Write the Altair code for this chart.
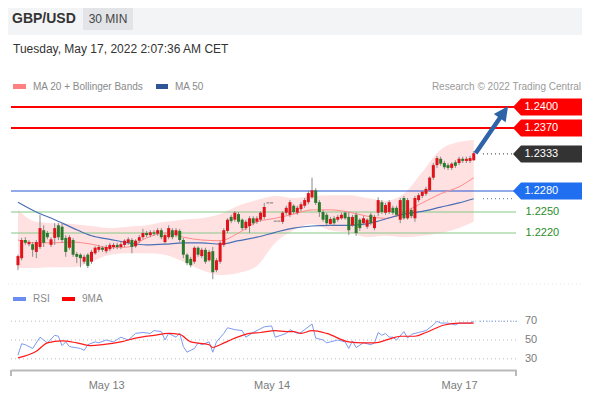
import altair as alt
import pandas as pd

# ---------------- text ----------------
TITLE = "GBP/USD"
PERIOD = "30 MIN"
TIMESTAMP = "Tuesday, May 17, 2022 2:07:36 AM CET"
LEG_MA20 = "MA 20 + Bollinger Bands"
LEG_MA50 = "MA 50"
CREDIT = "Research \u00a9 2022 Trading Central"
LEG_RSI = "RSI"
LEG_MA9 = "9MA"

date_labels = ["May 13", "May 14", "May 17"]
date_bars = [24, 69, 120]

# ---------------- candles (30 min bars) ----------------
opens = [
1.2174,1.2184,1.2210,1.2204,1.2204,1.2193,1.2200,1.2224,1.2220,1.2203,
1.2213,1.2231,1.2229,1.2213,1.2199,1.2210,1.2190,1.2189,1.2179,1.2189,
1.2179,1.2191,1.2196,1.2199,1.2194,1.2197,1.2200,1.2203,1.2200,1.2203,
1.2206,1.2210,1.2201,1.2209,1.2214,1.2220,1.2217,1.2221,1.2219,1.2224,
1.2207,1.2214,1.2224,1.2217,1.2223,1.2210,1.2189,1.2183,1.2179,1.2199,
1.2187,1.2196,1.2181,1.2194,1.2167,1.2179,1.2203,1.2223,1.2243,1.2239,
1.2247,1.2239,1.2227,1.2230,1.2241,1.2236,1.2239,1.2243,1.2263,1.2263,
1.2237,1.2237,1.2236,1.2249,1.2246,1.2259,1.2249,1.2254,1.2259,1.2264,
1.2271,1.2281,1.2264,1.2250,1.2246,1.2233,1.2241,1.2239,1.2241,1.2249,
1.2243,1.2231,1.2246,1.2239,1.2234,1.2229,1.2246,1.2227,1.2249,1.2264,
1.2249,1.2250,1.2256,1.2256,1.2239,1.2270,1.2241,1.2253,1.2241,1.2267,
1.2273,1.2276,1.2281,1.2299,1.2317,1.2326,1.2320,1.2317,1.2313,1.2321,
1.2320,1.2326,1.2323,1.2323,1.2324]
highs = [
1.2189,1.2213,1.2214,1.2210,1.2207,1.2210,1.2246,1.2231,1.2223,1.2214,
1.2234,1.2234,1.2234,1.2217,1.2217,1.2213,1.2193,1.2191,1.2189,1.2191,
1.2196,1.2201,1.2203,1.2201,1.2203,1.2206,1.2206,1.2206,1.2207,1.2211,
1.2214,1.2213,1.2211,1.2217,1.2226,1.2223,1.2224,1.2224,1.2227,1.2227,
1.2219,1.2231,1.2227,1.2227,1.2226,1.2213,1.2191,1.2186,1.2201,1.2201,
1.2199,1.2199,1.2196,1.2200,1.2184,1.2209,1.2227,1.2241,1.2246,1.2251,
1.2250,1.2241,1.2239,1.2244,1.2244,1.2244,1.2251,1.2263,1.2263,1.2263,
1.2237,1.2237,1.2251,1.2259,1.2267,1.2261,1.2259,1.2264,1.2270,1.2280,
1.2299,1.2284,1.2267,1.2253,1.2249,1.2243,1.2244,1.2246,1.2249,1.2251,
1.2250,1.2246,1.2249,1.2241,1.2244,1.2241,1.2249,1.2246,1.2271,1.2267,
1.2263,1.2267,1.2259,1.2259,1.2270,1.2273,1.2270,1.2256,1.2273,1.2277,
1.2281,1.2286,1.2301,1.2320,1.2330,1.2329,1.2323,1.2320,1.2321,1.2324,
1.2329,1.2329,1.2329,1.2330,1.2337]
lows = [
1.2167,1.2181,1.2203,1.2201,1.2186,1.2184,1.2197,1.2200,1.2211,1.2200,
1.2203,1.2210,1.2206,1.2186,1.2196,1.2186,1.2177,1.2171,1.2176,1.2170,
1.2176,1.2189,1.2193,1.2193,1.2191,1.2194,1.2197,1.2197,1.2197,1.2200,
1.2203,1.2191,1.2199,1.2206,1.2211,1.2214,1.2214,1.2216,1.2216,1.2211,
1.2204,1.2211,1.2211,1.2214,1.2207,1.2184,1.2174,1.2171,1.2176,1.2186,
1.2184,1.2176,1.2179,1.2154,1.2164,1.2176,1.2200,1.2220,1.2234,1.2236,
1.2233,1.2224,1.2224,1.2220,1.2231,1.2233,1.2236,1.2240,1.2263,1.2263,
1.2237,1.2237,1.2233,1.2246,1.2243,1.2247,1.2246,1.2251,1.2256,1.2261,
1.2269,1.2260,1.2243,1.2236,1.2231,1.2230,1.2231,1.2236,1.2239,1.2239,
1.2217,1.2229,1.2216,1.2223,1.2231,1.2226,1.2231,1.2224,1.2244,1.2247,
1.2246,1.2247,1.2246,1.2243,1.2234,1.2239,1.2239,1.2241,1.2236,1.2264,
1.2270,1.2273,1.2279,1.2296,1.2313,1.2316,1.2311,1.2310,1.2310,1.2313,
1.2317,1.2320,1.2320,1.2320,1.2323]
closes = [
1.2187,1.2210,1.2206,1.2207,1.2196,1.2207,1.2227,1.2206,1.2214,1.2211,
1.2227,1.2214,1.2210,1.2193,1.2214,1.2189,1.2186,1.2184,1.2186,1.2173,
1.2193,1.2199,1.2200,1.2196,1.2200,1.2203,1.2203,1.2200,1.2204,1.2209,
1.2211,1.2200,1.2209,1.2214,1.2220,1.2217,1.2221,1.2219,1.2224,1.2214,
1.2217,1.2227,1.2214,1.2224,1.2210,1.2189,1.2177,1.2174,1.2199,1.2189,
1.2196,1.2179,1.2193,1.2164,1.2181,1.2206,1.2224,1.2239,1.2237,1.2249,
1.2236,1.2227,1.2236,1.2241,1.2234,1.2241,1.2249,1.2257,1.2263,1.2263,
1.2237,1.2237,1.2249,1.2256,1.2264,1.2250,1.2256,1.2261,1.2267,1.2277,
1.2281,1.2263,1.2250,1.2239,1.2234,1.2240,1.2234,1.2243,1.2246,1.2241,
1.2224,1.2243,1.2220,1.2227,1.2241,1.2239,1.2234,1.2243,1.2267,1.2250,
1.2260,1.2264,1.2249,1.2246,1.2267,1.2241,1.2267,1.2244,1.2270,1.2274,
1.2279,1.2283,1.2299,1.2317,1.2327,1.2319,1.2314,1.2313,1.2319,1.2316,
1.2326,1.2323,1.2326,1.2327,1.2334]

# ---------------- indicators ----------------
ind_idx = [0,5,10,15,20,25,30,35,40,45,50,55,60,65,70,75,80,85,90,95,100,105,110,115,120,124]
bb_upper = [1.2253,1.2236,1.2234,1.2233,1.2230,1.2227,1.2229,1.2231,1.2236,1.2239,1.2241,1.2247,1.2259,
            1.2267,1.2273,1.2270,1.2273,1.2274,1.2274,1.2270,1.2266,1.2276,1.2307,1.2339,1.2350,1.2353]
bb_lower = [1.2170,1.2170,1.2171,1.2171,1.2179,1.2189,1.2191,1.2191,1.2189,1.2179,1.2167,1.2160,1.2163,
            1.2173,1.2206,1.2224,1.2233,1.2224,1.2221,1.2214,1.2216,1.2214,1.2216,1.2220,1.2227,1.2236]
ma20 = [1.2210,1.2206,1.2206,1.2207,1.2204,1.2199,1.2200,1.2213,1.2220,1.2214,1.2210,1.2209,1.2220,
        1.2236,1.2241,1.2247,1.2253,1.2253,1.2250,1.2244,1.2241,1.2250,1.2263,1.2276,1.2286,1.2299]
ma50 = [1.2264,1.2250,1.2239,1.2227,1.2216,1.2211,1.2206,1.2203,1.2204,1.2206,1.2206,1.2204,1.2209,
        1.2214,1.2221,1.2227,1.2230,1.2231,1.2231,1.2233,1.2240,1.2247,1.2251,1.2257,1.2263,1.2269]

rsi_idx = [0,1,2,4,6,7,8,10,11,12,13,14,17,18,19,21,22,24,26,28,30,32,34,36,37,39,40,41,43,44,
           45,46,48,49,50,52,53,54,56,57,59,61,62,64,67,69,70,73,74,76,77,80,81,83,84,85,87,89,90,91,
           92,94,96,97,98,99,100,101,102,103,105,106,107,109,111,113,114,115,117,119,120,121,123,124]
rsi_val = [34,46,45,41,53,50,47,55,54,44,48,43,41,39,45,48,47,50,48,53,50,57,58,57,60,59,50,57,53,57,
           43,37,41,47,45,48,37,48,57,63,61,60,53,58,64,65,53,57,61,57,58,67,52,50,47,48,50,48,41,49,
           42,47,45,47,58,55,57,53,53,50,59,52,56,58,60,66,70,68,68,66,68,68,68,70]
ma9_idx = [0,5,8,12,16,20,23,28,32,37,41,44,47,52,53,55,59,63,66,70,73,75,77,80,84,90,94,97,101,104,
           108,111,116,120,124]
ma9_val = [31,38,47,49,47,44,45,48,52,55,57,56,48,45,42,45,52,57,58,60,59,59,57,60,57,48,47,47,51,54,
           54,58,66,68,68]

# ---------------- levels ----------------
resist_levels = [1.2400, 1.2370]
last_price = 1.2333
pivot_level = 1.2280
support_levels = [1.2250, 1.2220]
box_levels = [1.2400, 1.2370, 1.2333, 1.2280]
rsi_levels = [70, 50, 30]
arrow_idx = [124.5, 132.0]
arrow_price = [1.2334, 1.2391]

# ---------------- styles ----------------
FONT = "Liberation Sans"
W, H = 574, 384
UP, DOWN, FLAT = "#e0131a", "#2b7a2b", "#444444"
box_colors = ["#ff0000", "#ff0000", "#333333", "#1f6ff0"]
BOX_PATH = "M -1 0 L -0.768 -0.246 L 1 -0.246 L 1 0.246 L -0.768 0.246 Z"
HEAD_PATH = "M 0 -1 L 0.85 0.7 L -0.85 0.7 Z"

x_scale = alt.Scale(domain=[-0.533, 134.133], range=[3, 508], nice=False, zero=False)
p_scale = alt.Scale(domain=[1.2150, 1.2410], range=[274, 92], nice=False, zero=False)
r_scale = alt.Scale(domain=[20, 80], range=[360.2, 303.8], nice=False, zero=False)

label_expr = ""
for pos, lab in zip(date_bars, date_labels):
    label_expr += f"datum.value == {pos} ? '{lab}' : "
label_expr += "''"

x_axis = alt.Axis(values=date_bars, labelExpr=label_expr, title=None, grid=False, ticks=False,
                  tickSize=0, domainColor="#b9b9b9", domainWidth=2, labelColor="#7b7b7b",
                  labelFont=FONT, labelFontSize=11, labelPadding=9, offset=-22,
                  labelOverlap=False, labelFlush=False)


def X(f="i"):
    return alt.X(f"{f}:Q", scale=x_scale, axis=x_axis)


def YP(f):
    return alt.Y(f"{f}:Q", scale=p_scale, axis=None)


def YR(f):
    return alt.Y(f"{f}:Q", scale=r_scale, axis=None)


one = pd.DataFrame({"k": [0]})


def txt(s, x, y, size, color, align="left", weight="normal"):
    return alt.Chart(pd.DataFrame({"t": [s]})).mark_text(
        align=align, baseline="middle", font=FONT, fontSize=size, fontWeight=weight, color=color
    ).encode(x=alt.value(x), y=alt.value(y), text="t:N")


def rect(x, x2, y, y2, color):
    return alt.Chart(one).mark_rect(color=color).encode(
        x=alt.value(x), x2=alt.value(x2), y=alt.value(y), y2=alt.value(y2))


def hrule(x, x2, y, color, width=1, dash=None):
    kw = dict(color=color, strokeWidth=width)
    if dash:
        kw["strokeDash"] = dash
    return alt.Chart(one).mark_rule(**kw).encode(
        x=alt.value(x), x2=alt.value(x2), y=alt.value(y))


def vrule(x, y, y2, color, width=1):
    return alt.Chart(one).mark_rule(color=color, strokeWidth=width).encode(
        x=alt.value(x), y=alt.value(y), y2=alt.value(y2))


cdf = pd.DataFrame({"i": list(range(len(opens))), "open": opens, "high": highs,
                    "low": lows, "close": closes})
ind = pd.DataFrame({"i": ind_idx, "upper": bb_upper, "lower": bb_lower, "ma20": ma20, "ma50": ma50})
rsi_df = pd.DataFrame({"i": rsi_idx, "rsi": rsi_val})
ma9_df = pd.DataFrame({"i": ma9_idx, "ma9": ma9_val})
arrow_df = pd.DataFrame({"i": arrow_idx, "p": arrow_price})
box_df = pd.DataFrame({"level": box_levels, "fill": box_colors,
                       "label": [f"{v:.4f}" for v in box_levels]})
sup_df = pd.DataFrame({"level": support_levels, "label": [f"{v:.4f}" for v in support_levels]})

layers = []
# header
layers.append(rect(0, W, 0, 27, "#f3f4f5"))
layers.append(rect(75, 125, 0, 22, "#e2e4e7"))
layers.append(txt(TITLE, 4, 11, 14, "#333333", weight="bold"))
layers.append(txt(PERIOD, 100, 11, 12, "#444444", align="center"))
layers.append(txt(TIMESTAMP, 5, 41, 12, "#333333"))
# price legend
layers.append(rect(5, 18, 76, 81, "#ff8080"))
layers.append(txt(LEG_MA20, 25, 78.5, 10, "#8a8a8a"))
layers.append(rect(148, 160, 76, 81, "#2f5597"))
layers.append(txt(LEG_MA50, 167, 78.5, 10, "#8a8a8a"))
layers.append(txt(CREDIT, 573, 78.5, 10, "#9a9a9a", align="right"))

# bollinger band
layers.append(alt.Chart(ind).mark_area(color="#ffe1e1", interpolate="monotone").encode(
    x=X(), y=YP("upper"), y2=alt.Y2("lower:Q")))
# horizontal levels
layers.append(alt.Chart(pd.DataFrame({"level": support_levels})).mark_rule(
    color="#86c986", strokeWidth=1).encode(y=YP("level"), x=alt.value(3), x2=alt.value(508)))
layers.append(alt.Chart(pd.DataFrame({"level": [pivot_level]})).mark_rule(
    color="#2456d6", strokeWidth=1.2).encode(y=YP("level"), x=alt.value(3), x2=alt.value(507)))
layers.append(alt.Chart(pd.DataFrame({"level": resist_levels})).mark_rule(
    color="#ff0000", strokeWidth=2).encode(y=YP("level"), x=alt.value(3), x2=alt.value(507)))
# moving averages
layers.append(alt.Chart(ind).mark_line(color="#ff8a8a", strokeWidth=1, interpolate="monotone").encode(
    x=X(), y=YP("ma20")))
layers.append(alt.Chart(ind).mark_line(color="#4a6fb5", strokeWidth=1.2, interpolate="monotone").encode(
    x=X(), y=YP("ma50")))
# candles
layers.append(alt.Chart(cdf).mark_rule(color="#8a8a8a", strokeWidth=1).encode(
    x=X(), y=YP("low"), y2=alt.Y2("high:Q")))
layers.append(alt.Chart(cdf).transform_filter("datum.open != datum.close").mark_bar(size=3).encode(
    x=X(), y=YP("open"), y2=alt.Y2("close:Q"),
    color=alt.condition("datum.close > datum.open", alt.value(UP), alt.value(DOWN))))
layers.append(alt.Chart(cdf).transform_filter("datum.open == datum.close").mark_tick(
    color=FLAT, thickness=1, size=3, orient="horizontal").encode(x=X(), y=YP("close")))
# dotted extensions
layers.append(alt.Chart(pd.DataFrame({"level": [last_price]})).mark_rule(
    color="#333333", strokeDash=[1, 3], strokeWidth=1).encode(
    y=YP("level"), x=alt.value(475), x2=alt.value(505)))
layers.append(alt.Chart(pd.DataFrame({"level": [ma50[-1]]})).mark_rule(
    color="#4a6fb5", strokeDash=[1, 3], strokeWidth=1).encode(
    y=YP("level"), x=alt.value(475), x2=alt.value(505)))
# arrow
layers.append(alt.Chart(arrow_df).mark_line(color="#2e63a8", strokeWidth=4.5, strokeCap="butt").encode(
    x=X(), y=YP("p")))
layers.append(alt.Chart(arrow_df.tail(1)).mark_point(
    shape=HEAD_PATH, size=289, filled=True, opacity=1, color="#2e63a8", angle=35, strokeWidth=0).encode(
    x=X(), y=YP("p")))
# price label boxes
layers.append(alt.Chart(box_df).mark_point(
    shape=BOX_PATH, size=4761, filled=True, opacity=1, strokeWidth=0).encode(
    x=alt.value(539.5), y=YP("level"), color=alt.Color("fill:N", scale=None)))
layers.append(alt.Chart(box_df).mark_text(
    align="left", baseline="middle", font=FONT, fontSize=11, color="white").encode(
    x=alt.value(516.5), y=YP("level"), text="label:N"))
layers.append(alt.Chart(sup_df).mark_text(
    align="left", baseline="middle", font=FONT, fontSize=11, color="#2a8c2a").encode(
    x=alt.value(517.5), y=YP("level"), text="label:N"))

# RSI panel
layers.append(hrule(0, W, 276, "#dde3ea", 1, [1, 3]))
layers.append(alt.Chart(pd.DataFrame({"r": rsi_levels})).mark_rule(
    color="#bdbdbd", strokeDash=[1, 3], strokeWidth=1).encode(
    y=YR("r"), x=alt.value(3), x2=alt.value(509)))
layers.append(alt.Chart(pd.DataFrame({"r": rsi_levels})).mark_text(
    align="left", baseline="middle", font=FONT, fontSize=11, color="#7b7b7b").encode(
    y=YR("r"), x=alt.value(517), text="r:Q"))
layers.append(alt.Chart(rsi_df).mark_line(color="#7d9bf0", strokeWidth=1).encode(
    x=X(), y=YR("rsi")))
layers.append(alt.Chart(ma9_df).mark_line(color="#ff1a1a", strokeWidth=1.2, interpolate="monotone").encode(
    x=X(), y=YR("ma9")))
layers.append(alt.Chart(pd.DataFrame({"r": [rsi_val[-1]]})).mark_rule(
    color="#7d9bf0", strokeDash=[1, 2], strokeWidth=1).encode(
    y=YR("r"), x=alt.value(472), x2=alt.value(509)))
layers.append(rect(5, 18, 289, 293, "#6b8cf0"))
layers.append(txt(LEG_RSI, 25, 291, 10, "#8a8a8a"))
layers.append(rect(54, 67, 289, 293, "#ff0000"))
layers.append(txt(LEG_MA9, 74, 291, 10, "#8a8a8a"))

# axis end caps
layers.append(vrule(3, 362, 368, "#b9b9b9", 2))
layers.append(vrule(508, 362, 368, "#b9b9b9", 2))

chart = alt.layer(*layers).resolve_scale(y="independent").properties(
    width=W, height=H, autosize=alt.AutoSizeParams(type="none"), padding=0, background="white"
).configure_view(stroke=None)

chart.save("out.html", embed_options={"renderer": "svg", "actions": False})
